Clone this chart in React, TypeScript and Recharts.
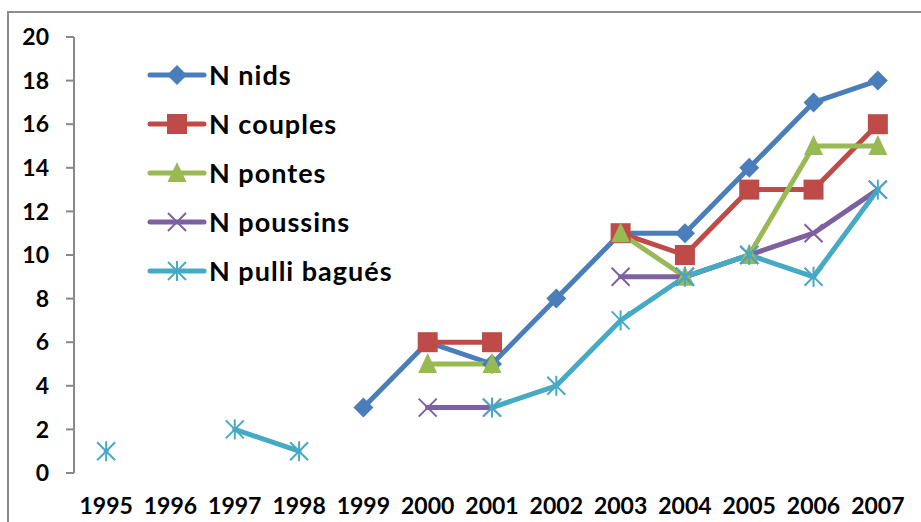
import React from "react";
import { LineChart, Line, XAxis, YAxis } from "recharts";

const years = [1995, 1996, 1997, 1998, 1999, 2000, 2001, 2002, 2003, 2004, 2005, 2006, 2007];
const nNids = [null, null, null, null, 3, 6, 5, 8, 11, 11, 14, 17, 18];
const nCouples = [null, null, null, null, null, 6, 6, null, 11, 10, 13, 13, 16];
const nPontes = [null, null, null, null, null, 5, 5, null, 11, 9, 10, 15, 15];
const nPoussins = [null, null, null, null, null, 3, 3, null, 9, 9, 10, 11, 13];
const nPulli = [1, null, 2, 1, null, null, 3, 4, 7, 9, 10, 9, 13];
const yTicks = [0, 2, 4, 6, 8, 10, 12, 14, 16, 18, 20];
const boundaryTicks = [1994.5, 1995.5, 1996.5, 1997.5, 1998.5, 1999.5, 2000.5, 2001.5, 2002.5, 2003.5, 2004.5, 2005.5, 2006.5, 2007.5];

const data = years.map((y, i) => ({
  year: y,
  nids: nNids[i],
  couples: nCouples[i],
  pontes: nPontes[i],
  poussins: nPoussins[i],
  pulli: nPulli[i],
}));

const FONT = "Lato, 'Open Sans', sans-serif";

type Shape = "diamond" | "square" | "triangle" | "x" | "star";

const series: { key: string; name: string; color: string; shape: Shape; width: number }[] = [
  { key: "nids", name: "N nids", color: "#4A7EBB", shape: "diamond", width: 5 },
  { key: "couples", name: "N couples", color: "#BE4B48", shape: "square", width: 5 },
  { key: "pontes", name: "N pontes", color: "#98B954", shape: "triangle", width: 5 },
  { key: "poussins", name: "N poussins", color: "#7D60A0", shape: "x", width: 5 },
  { key: "pulli", name: "N pulli bagués", color: "#46AAC5", shape: "star", width: 5 },
];

function Marker({ cx, cy, shape, color }: { cx: number; cy: number; shape: Shape; color: string }) {
  switch (shape) {
    case "diamond":
      return <polygon points={`${cx},${cy - 10} ${cx + 10},${cy} ${cx},${cy + 10} ${cx - 10},${cy}`} fill={color} />;
    case "square":
      return <rect x={cx - 10} y={cy - 10} width={20} height={20} fill={color} />;
    case "triangle":
      return <polygon points={`${cx},${cy - 11} ${cx + 9.5},${cy + 9} ${cx - 9.5},${cy + 9}`} fill={color} />;
    case "x":
      return (
        <g stroke={color} strokeWidth={2}>
          <line x1={cx - 9} y1={cy - 9} x2={cx + 9} y2={cy + 9} />
          <line x1={cx - 9} y1={cy + 9} x2={cx + 9} y2={cy - 9} />
        </g>
      );
    default:
      return (
        <g stroke={color} strokeWidth={2}>
          <line x1={cx - 9} y1={cy - 9} x2={cx + 9} y2={cy + 9} />
          <line x1={cx - 9} y1={cy + 9} x2={cx + 9} y2={cy - 9} />
          <line x1={cx} y1={cy - 10} x2={cx} y2={cy + 10} />
        </g>
      );
  }
}

function makeDot(shape: Shape, color: string) {
  return (props: any) => {
    const { cx, cy, index } = props;
    if (cx == null || cy == null || props.value == null || (Array.isArray(props.value) && props.value[1] == null)) {
      return <g key={`e-${index}`} />;
    }
    return (
      <g key={`d-${index}`}>
        <Marker cx={cx} cy={cy} shape={shape} color={color} />
      </g>
    );
  };
}

function LegendBox() {
  return (
    <svg width={360} height={250} style={{ position: "absolute", left: 149, top: 50, overflow: "visible" }}>
      {series.map((s, i) => {
        const y = 25 + i * 49;
        return (
          <g key={s.key}>
            <line x1={1} y1={y} x2={55} y2={y} stroke={s.color} strokeWidth={s.width} strokeLinecap="round" />
            <Marker cx={28} cy={y} shape={s.shape} color={s.color} />
            <text x={60} y={y} dy="0.36em" fontFamily={FONT} fontWeight="bold" fontSize={27} letterSpacing={1} fill="#000">
              {s.name}
            </text>
          </g>
        );
      })}
    </svg>
  );
}

export default function App() {
  return (
    <div style={{ position: "absolute", left: 0, top: 0, width: 921, height: 522, overflow: "hidden", background: "#fff" }}>
      <div style={{ position: "absolute", left: 7, top: 11, width: 1000, height: 1000, border: "2px solid #8c8c8c" }} />
      <div style={{ position: "absolute", left: 8, top: 8 }}>
        <LineChart width={913} height={514} data={data} margin={{ top: 29, right: 11, left: 0, bottom: 0 }}>
          <XAxis
            xAxisId="main"
            dataKey="year"
            type="number"
            domain={[1994.5, 2007.5]}
            ticks={boundaryTicks}
            interval={0}
            tick={false}
            tickSize={7}
            height={0}
            axisLine={{ stroke: "#888", strokeWidth: 2 }}
            tickLine={{ stroke: "#888", strokeWidth: 2 }}
          />
          <XAxis
            xAxisId="labels"
            dataKey="year"
            type="number"
            domain={[1994.5, 2007.5]}
            ticks={years}
            interval={0}
            height={49}
            axisLine={false}
            tickLine={false}
            tickSize={0}
            tickMargin={25}
            tick={{ fontFamily: FONT, fontWeight: "bold", fontSize: 23, fill: "#000" }}
          />
          <YAxis
            domain={[0, 20]}
            ticks={yTicks}
            interval={0}
            width={66}
            tickSize={8}
            tickMargin={17}
            axisLine={{ stroke: "#888", strokeWidth: 2 }}
            tickLine={{ stroke: "#888", strokeWidth: 2 }}
            tick={{ fontFamily: FONT, fontWeight: "bold", fontSize: 23, fill: "#000" }}
          />
          {series.map((s) => (
            <Line
              key={s.key}
              xAxisId="main"
              dataKey={s.key}
              name={s.name}
              stroke={s.color}
              strokeWidth={s.width}
              strokeLinejoin="round"
              strokeLinecap="round"
              dot={makeDot(s.shape, s.color)}
              activeDot={false}
              isAnimationActive={false}
            />
          ))}
        </LineChart>
      </div>
      <LegendBox />
    </div>
  );
}
